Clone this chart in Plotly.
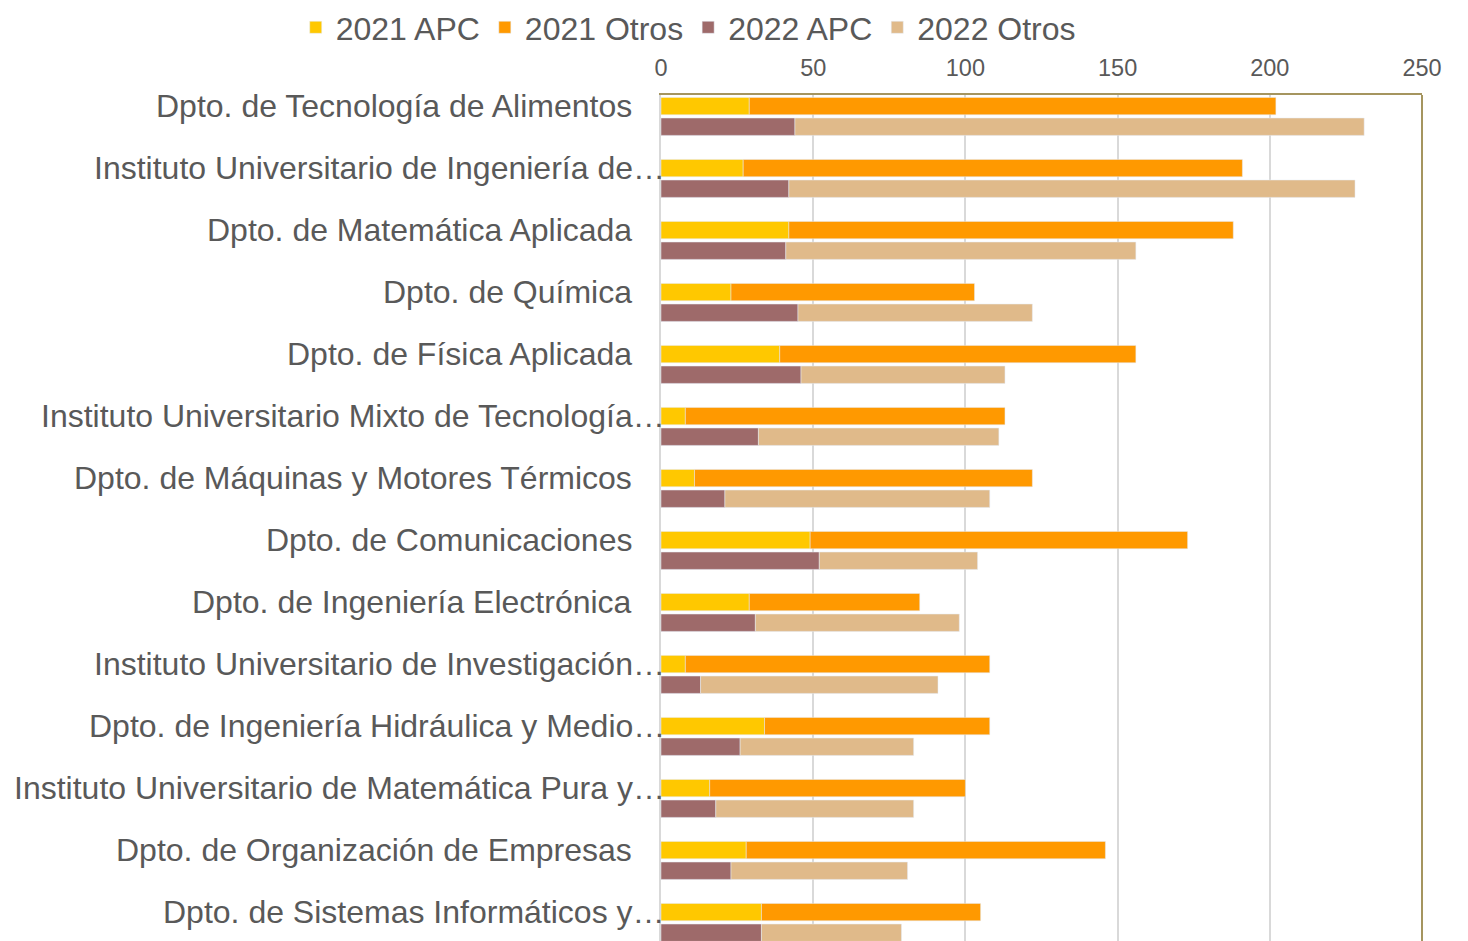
import plotly.graph_objects as go

categories = [
    "Dpto. de Tecnología de Alimentos",
    "Instituto Universitario de Ingeniería de…",
    "Dpto. de Matemática Aplicada",
    "Dpto. de Química",
    "Dpto. de Física Aplicada",
    "Instituto Universitario Mixto de Tecnología…",
    "Dpto. de Máquinas y Motores Térmicos",
    "Dpto. de Comunicaciones",
    "Dpto. de Ingeniería Electrónica",
    "Instituto Universitario de Investigación…",
    "Dpto. de Ingeniería Hidráulica y Medio…",
    "Instituto Universitario de Matemática Pura y…",
    "Dpto. de Organización de Empresas",
    "Dpto. de Sistemas Informáticos y…",
]
apc_2021 = [29, 27, 42, 23, 39, 8, 11, 49, 29, 8, 34, 16, 28, 33]
otros_2021 = [173, 164, 146, 80, 117, 105, 111, 124, 56, 100, 74, 84, 118, 72]
apc_2022 = [44, 42, 41, 45, 46, 32, 21, 52, 31, 13, 26, 18, 23, 33]
otros_2022 = [187, 186, 115, 77, 67, 79, 87, 52, 67, 78, 57, 65, 58, 46]
x_ticks = [0, 50, 100, 150, 200, 250]

C_APC21 = "#FFC800"
C_OTR21 = "#FF9900"
C_APC22 = "#9E6A6A"
C_OTR22 = "#E0BA8A"
TXT = "#595959"
OLIVE = "#A5955F"
FONT = "Liberation Sans, Arial, sans-serif"

W = 0.28
OFF21 = -0.3065
OFF22 = 0.0265

fig = go.Figure()
fig.add_trace(go.Bar(name="2021 APC", y=categories, x=apc_2021, orientation="h",
                     offset=OFF21, width=W, marker_color=C_APC21))
fig.add_trace(go.Bar(name="2021 Otros", y=categories, x=otros_2021, base=apc_2021, orientation="h",
                     offset=OFF21, width=W, marker_color=C_OTR21))
fig.add_trace(go.Bar(name="2022 APC", y=categories, x=apc_2022, orientation="h",
                     offset=OFF22, width=W, marker_color=C_APC22))
fig.add_trace(go.Bar(name="2022 Otros", y=categories, x=otros_2022, base=apc_2022, orientation="h",
                     offset=OFF22, width=W, marker_color=C_OTR22))

annotations = []
for c in categories:
    trunc = c.endswith("…")
    annotations.append(dict(
        x=0, xref="x", y=c, yref="y", text=c, showarrow=False,
        xanchor="right", yanchor="middle",
        xshift=6 if trunc else -27, yshift=10,
        font=dict(family=FONT, size=32, color=TXT),
    ))

fig.update_layout(
    width=1460, height=933,
    margin=dict(l=653, r=46, t=87, b=0, autoexpand=False),
    barmode="overlay",
    paper_bgcolor="white", plot_bgcolor="white",
    font=dict(family=FONT, color=TXT),
    showlegend=True,
    legend=dict(orientation="h", x=-0.48, xanchor="left", y=1.1123, yanchor="top",
                font=dict(family=FONT, size=32, color=TXT), traceorder="normal",
                itemwidth=30, borderwidth=0, tracegroupgap=0,
                bgcolor="rgba(0,0,0,0)"),
    xaxis=dict(side="top", range=[0, 250], tickvals=x_ticks, showgrid=True,
               gridcolor="#D9D9D9", gridwidth=1.5, zeroline=False,
               showline=True, linecolor=OLIVE, linewidth=2, ticks="",
               ticklabelstandoff=8,
               tickfont=dict(family=FONT, size=23.5, color=TXT), automargin=False),
    yaxis=dict(type="category", categoryorder="array", categoryarray=categories,
               range=[13.30, -0.345], showticklabels=False, ticks="", showgrid=False,
               zeroline=False, showline=True, linecolor="#D9D9D9", linewidth=2,
               automargin=False),
    annotations=annotations,
    shapes=[dict(type="line", xref="paper", yref="paper", x0=1, x1=1, y0=0, y1=1,
                 line=dict(color=OLIVE, width=2))],
)

fig.write_html("out.html")
